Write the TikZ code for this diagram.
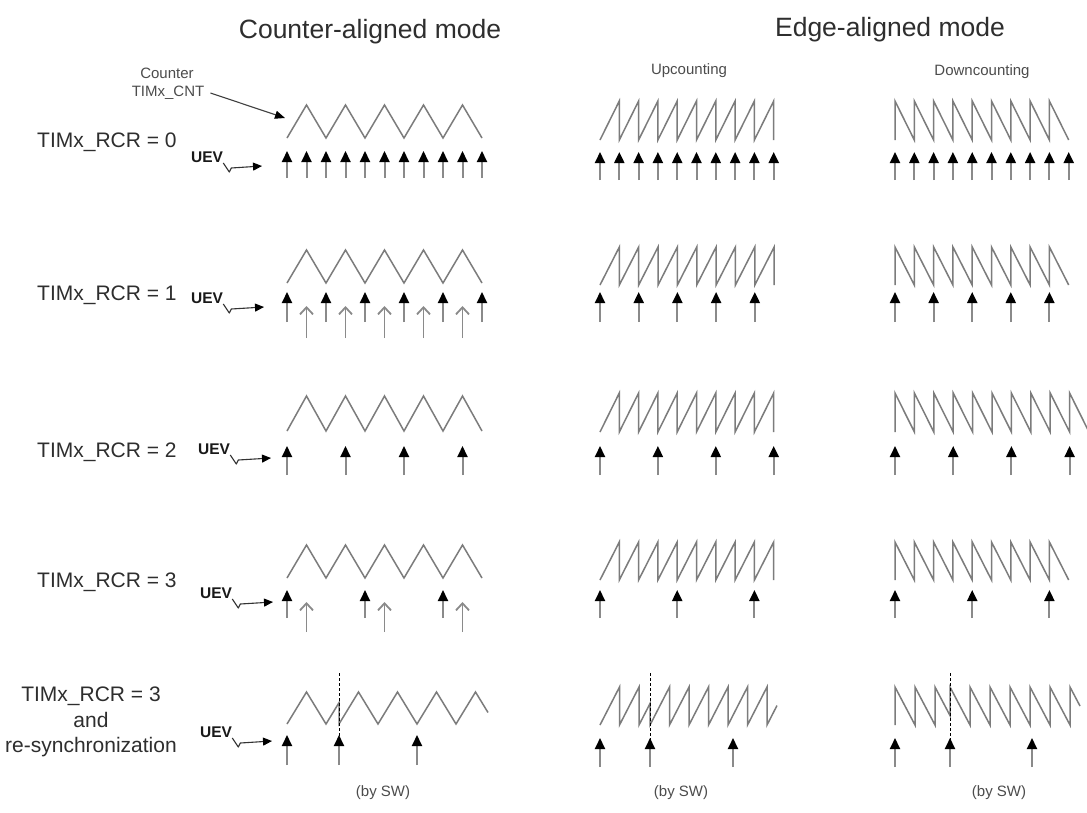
\documentclass[tikz,border=0pt]{standalone}
\usepackage{fontspec}
\setmainfont{Liberation Sans}
\usetikzlibrary{arrows.meta,calc}
\definecolor{wavec}{HTML}{7C7C7C}
\definecolor{shaftc}{HTML}{8A8A8A}
\definecolor{txt}{HTML}{2E2E2E}
\begin{document}
\begin{tikzpicture}[x=1pt,y=-1pt,
  wave/.style={draw=wavec,line width=1.5pt,line join=miter},
  evt/.style={draw=shaftc,line width=2pt,-{Triangle[length=11pt,width=10pt,color=black]}},
  hol/.style={draw=shaftc,line width=1.8pt,-{Straight Barb[length=7pt,width=13pt]}},
  uevarr/.style={draw=black!80,line width=1.1pt,line join=round,-{Triangle[length=9pt,width=8pt,color=black]}},
  cntarr/.style={draw=black!75,line width=1.1pt,-{Triangle[length=10pt,width=8pt,color=black]}},
  sync/.style={draw=black,line width=0.8pt,densely dashed},
  ttl/.style={text=txt,font=\fontsize{26.5}{30}\selectfont,inner sep=0pt},
  lbl/.style={text=txt,font=\fontsize{21}{25.5}\selectfont,inner sep=0pt},
  sml/.style={text=black!70,font=\fontsize{15}{20}\selectfont,inner sep=0pt},
  uevt/.style={text=black!90,font=\fontsize{15.5}{17}\selectfont\bfseries,inner sep=0pt,anchor=base west}]
\useasboundingbox[fill=white] (0,0) rectangle (1087,812);

% titles
\node[ttl] (tca) at (370,32) {Counter-aligned mode};
\node[ttl] (tea) at (890,30) {Edge-aligned mode};
\node[sml] (tup) at (689,71) {Upcounting};
\node[sml] (tdn) at (982,72) {Downcounting};
\node[sml] (cnt1) at (167,73) {Counter};
\node[sml] (cnt2) at (168,93) {TIMx\_CNT};
\coordinate (cnttip) at (285,118);
\draw[cntarr] ([xshift=6pt]cnt2.east) -- (cnttip);

% row labels
\node[lbl,anchor=west] (r0) at (37,142) {TIMx\_RCR = 0};
\node[lbl,anchor=west] (r1) at (37,295) {TIMx\_RCR = 1};
\node[lbl,anchor=west] (r2) at (37,452) {TIMx\_RCR = 2};
\node[lbl,anchor=west] (r3) at (37,582) {TIMx\_RCR = 3};
\node[lbl,align=center] (r4) at (91,722) {TIMx\_RCR = 3\\and\\re-synchronization};

% UEV labels
\node[uevt] (u0) at (191,162) {UEV};
\coordinate (ut0) at (262,166);
\node[uevt] (u1) at (191,303) {UEV};
\coordinate (ut1) at (264,307);
\node[uevt] (u2) at (198,454) {UEV};
\coordinate (ut2) at (271,458);
\node[uevt] (u3) at (200,598) {UEV};
\coordinate (ut3) at (273,602);
\node[uevt] (u4) at (200,737) {UEV};
\coordinate (ut4) at (272,741);
\foreach \i in {0,...,4}{
  \draw[uevarr] ([shift={(0pt,-1pt)}]u\i.base east) -- ++(6,9) -- ++(2,-4) -- (ut\i);
}

% ================= Counter-aligned =================
% row 1
\draw[wave] (287,138) \foreach \k in {1,...,10}{ -- ({287+\k*19.5},{138-33*mod(\k,2)}) };
\foreach \k in {0,...,10} \draw[evt] ({287+\k*19.5},178) -- ({287+\k*19.5},151);
% row 2
\draw[wave] (287,283) \foreach \k in {1,...,10}{ -- ({287+\k*19.5},{283-33*mod(\k,2)}) };
\foreach \k in {0,...,5} \draw[evt] ({287+2*\k*19.5},322) -- ({287+2*\k*19.5},292);
\foreach \k in {0,...,4} \draw[hol] ({287+(2*\k+1)*19.5},338) -- ({287+(2*\k+1)*19.5},306);
% row 3
\draw[wave] (287,431) \foreach \k in {1,...,10}{ -- ({287+\k*19.5},{431-35*mod(\k,2)}) };
\foreach \k in {0,...,3} \draw[evt] ({287+3*\k*19.5},475) -- ({287+3*\k*19.5},446);
% row 4
\draw[wave] (287,578) \foreach \k in {1,...,10}{ -- ({287+\k*19.5},{578-33*mod(\k,2)}) };
\foreach \k in {0,...,2} \draw[evt] ({287+4*\k*19.5},618) -- ({287+4*\k*19.5},590);
\foreach \k in {0,...,2} \draw[hol] ({287+(4*\k+1)*19.5},632) -- ({287+(4*\k+1)*19.5},602);
% row 5 (resync)
\draw[wave] (287,724) -- (306.5,692) -- (326,724) -- (339,702.7) -- (339,724)
  \foreach \k in {1,...,7}{ -- ({339+\k*19.5},{724-32*mod(\k,2)}) } -- (488,712.5);
\draw[sync] (339,673) -- (339,740);
\foreach \x in {287,339,417} \draw[evt] (\x,765) -- (\x,735);
\node[sml] (sw1) at (383,793) {(by SW)};

% ================= Upcounting =================
\draw[wave] (600,140) \foreach \k in {1,...,9}{ -- ({600+\k*19.3},101) -- ({600+\k*19.3},140) };
\foreach \k in {0,...,9} \draw[evt] ({600+\k*19.3},180) -- ({600+\k*19.3},152);
\draw[wave] (600,285) \foreach \k in {1,...,9}{ -- ({600+\k*19.35},247) -- ({600+\k*19.35},285) };
\foreach \k in {0,...,4} \draw[evt] ({600+2*\k*19.35},322) -- ({600+2*\k*19.35},292);
\draw[wave] (600,432) \foreach \k in {1,...,9}{ -- ({600+\k*19.3},393) -- ({600+\k*19.3},432) };
\foreach \k in {0,...,3} \draw[evt] ({600+3*\k*19.3},475) -- ({600+3*\k*19.3},446);
\draw[wave] (600,580) \foreach \k in {1,...,9}{ -- ({600+\k*19.3},542) -- ({600+\k*19.3},580) };
\foreach \k in {0,...,2} \draw[evt] ({600+4*\k*19.3},618) -- ({600+4*\k*19.3},590);
% resync
\draw[wave] (600,725) -- (619.5,687) -- (619.5,725) -- (639,687) -- (639,725) -- (650,703.6) -- (650,725)
  \foreach \k in {1,...,6}{ -- ({650+\k*19.5},687) -- ({650+\k*19.5},725) } -- (777,705.5);
\draw[sync] (650,673) -- (650,740);
\foreach \x in {600,650,733} \draw[evt] (\x,767) -- (\x,738);
\node[sml] (sw2) at (681,793) {(by SW)};

% ================= Downcounting =================
\draw[wave] (895,140) \foreach \k in {0,...,8}{ -- ({895+\k*19.3},101) -- ({895+(\k+1)*19.3},140) };
\foreach \k in {0,...,9} \draw[evt] ({895+\k*19.3},180) -- ({895+\k*19.3},152);
\draw[wave] (895,285) \foreach \k in {0,...,8}{ -- ({895+\k*19.3},247) -- ({895+(\k+1)*19.3},285) };
\foreach \k in {0,...,4} \draw[evt] ({895+2*\k*19.3},322) -- ({895+2*\k*19.3},292);
\draw[wave] (895,432) \foreach \k in {0,...,9}{ -- ({895+\k*19.4},393) -- ({895+(\k+1)*19.4},432) };
\foreach \k in {0,...,3} \draw[evt] ({895+3*\k*19.4},475) -- ({895+3*\k*19.4},446);
\draw[wave] (895,580) \foreach \k in {0,...,8}{ -- ({895+\k*19.3},542) -- ({895+(\k+1)*19.3},580) };
\foreach \k in {0,...,2} \draw[evt] ({895+4*\k*19.3},618) -- ({895+4*\k*19.3},590);
% resync
\draw[wave] (895,725) -- (895,687) -- (915,725) -- (915,687) -- (935,725) -- (935,687) -- (950,715.5) -- (950,687)
  \foreach \k in {1,...,6}{ -- ({950+\k*20},725) -- ({950+\k*20},687) } -- (1080,706);
\draw[sync] (950,673) -- (950,740);
\foreach \x in {895,950,1032} \draw[evt] (\x,767) -- (\x,738);
\node[sml] (sw3) at (999,793) {(by SW)};
\end{tikzpicture}
\end{document}
